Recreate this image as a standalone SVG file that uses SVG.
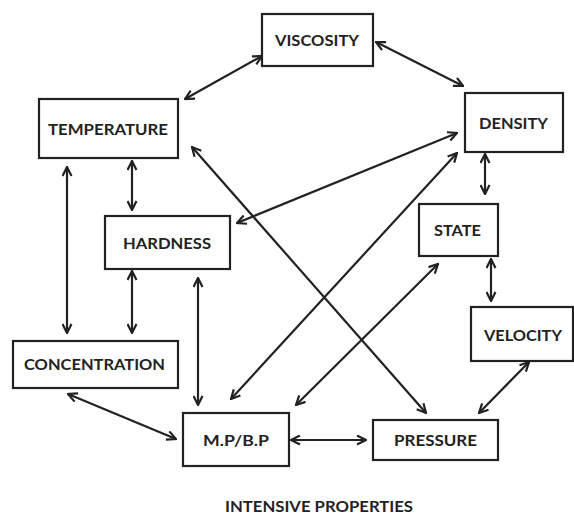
<svg xmlns="http://www.w3.org/2000/svg" width="574" height="515" viewBox="0 0 574 515">
<style>
.box{fill:#fff;stroke:#222;stroke-width:2.2}
.lbl{font-family:Lato,"Open Sans","Liberation Sans",sans-serif;font-weight:bold;font-size:15.5px;fill:#222;text-anchor:middle}
.c{stroke:#222;stroke-width:2.2;fill:none;marker-start:url(#ah);marker-end:url(#ah)}
</style>
<defs>
<marker id="ah" viewBox="0 0 11 11" refX="10" refY="5.5" markerWidth="11" markerHeight="11" markerUnits="userSpaceOnUse" orient="auto-start-reverse">
<path d="M1,1 L10,5.5 L1,10" fill="none" stroke="#222" stroke-width="2.2"/>
</marker>
</defs>
<rect width="574" height="515" fill="#fff"/>
<g id="connectors">
<line class="c" x1="185" y1="99" x2="262" y2="56"/>
<line class="c" x1="376" y1="42" x2="463" y2="86"/>
<line class="c" x1="485" y1="154" x2="485" y2="194"/>
<line class="c" x1="132" y1="161" x2="132" y2="210"/>
<line class="c" x1="67" y1="167" x2="67" y2="333"/>
<line class="c" x1="132" y1="271" x2="132" y2="333"/>
<line class="c" x1="198" y1="278" x2="198" y2="405"/>
<line class="c" x1="68" y1="394" x2="176" y2="439"/>
<line class="c" x1="291" y1="440" x2="366" y2="440"/>
<line class="c" x1="479" y1="413" x2="529" y2="362"/>
<line class="c" x1="491" y1="259" x2="491" y2="301"/>
<line class="c" x1="192" y1="147" x2="426" y2="413"/>
<line class="c" x1="457" y1="133" x2="237" y2="223"/>
<line class="c" x1="457" y1="153" x2="231" y2="399"/>
<line class="c" x1="438" y1="264" x2="296" y2="405"/>
</g>
<g id="viscosity"><rect class="box" x="262" y="14" width="111" height="52"/><text class="lbl" x="317" y="46" textLength="84" lengthAdjust="spacingAndGlyphs">VISCOSITY</text></g>
<g id="temperature"><rect class="box" x="39" y="99" width="139" height="59"/><text class="lbl" x="108" y="135" textLength="120" lengthAdjust="spacingAndGlyphs">TEMPERATURE</text></g>
<g id="hardness"><rect class="box" x="105" y="216" width="125" height="53"/><text class="lbl" x="167" y="249" textLength="88" lengthAdjust="spacingAndGlyphs">HARDNESS</text></g>
<g id="density"><rect class="box" x="465" y="93" width="98" height="59"/><text class="lbl" x="513.5" y="129" textLength="69" lengthAdjust="spacingAndGlyphs">DENSITY</text></g>
<g id="state"><rect class="box" x="419" y="204" width="79" height="52"/><text class="lbl" x="457.5" y="236" textLength="47" lengthAdjust="spacingAndGlyphs">STATE</text></g>
<g id="velocity"><rect class="box" x="471" y="307" width="102" height="54"/><text class="lbl" x="523" y="341" textLength="78" lengthAdjust="spacingAndGlyphs">VELOCITY</text></g>
<g id="concentration"><rect class="box" x="13" y="341" width="165" height="47"/><text class="lbl" x="94.5" y="370" textLength="141" lengthAdjust="spacingAndGlyphs">CONCENTRATION</text></g>
<g id="mpbp"><rect class="box" x="183" y="413" width="106" height="53"/><text class="lbl" x="236" y="446" textLength="66" lengthAdjust="spacingAndGlyphs">M.P/B.P</text></g>
<g id="pressure"><rect class="box" x="373" y="420" width="125" height="40"/><text class="lbl" x="435.5" y="446" textLength="83" lengthAdjust="spacingAndGlyphs">PRESSURE</text></g>
<g id="title"><text class="lbl" x="319" y="512" textLength="188" lengthAdjust="spacingAndGlyphs">INTENSIVE PROPERTIES</text></g>
</svg>
